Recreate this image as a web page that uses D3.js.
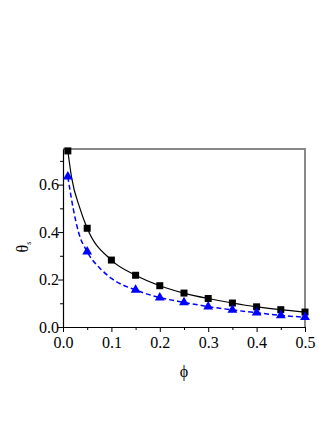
<!DOCTYPE html>
<html>
<head>
<meta charset="utf-8">
<script src="https://cdn.jsdelivr.net/npm/d3@7"></script>
<style>
  body { margin: 0; background: #fff; }
</style>
</head>
<body>
<div id="chart"></div>
<script>
// measured points
const phiSq = [0.01, 0.05, 0.1, 0.15, 0.2, 0.25, 0.3, 0.35, 0.4, 0.45, 0.5];
const thetaSq = [0.742, 0.416, 0.282, 0.218, 0.174, 0.143, 0.120, 0.101, 0.085, 0.073, 0.063];
const phiTri = [0.01, 0.05, 0.15, 0.2, 0.25, 0.3, 0.35, 0.4, 0.45, 0.5];
const thetaTri = [0.633, 0.317, 0.156, 0.124, 0.104, 0.086, 0.072, 0.060, 0.049, 0.041];

// fitted curves
const phiFitSq = [0.01, 0.018, 0.035, 0.05, 0.1, 0.15, 0.2, 0.25, 0.3, 0.35, 0.4, 0.45, 0.5];
const thetaFitSq = [0.742, 0.627, 0.50, 0.416, 0.282, 0.218, 0.174, 0.143, 0.120, 0.101, 0.085, 0.073, 0.063];
const phiFitTri = [0.01, 0.021, 0.032, 0.05, 0.08, 0.1, 0.15, 0.2, 0.25, 0.3, 0.35, 0.4, 0.45, 0.5];
const thetaFitTri = [0.633, 0.50, 0.40, 0.317, 0.24, 0.205, 0.156, 0.124, 0.104, 0.086, 0.072, 0.060, 0.049, 0.041];

const xTicks = [0, 0.1, 0.2, 0.3, 0.4, 0.5];
const yTicks = [0, 0.2, 0.4, 0.6];

const serif = "'Liberation Serif', 'Times New Roman', serif";

var margin = {top: 149, right: 27, bottom: 103, left: 63},
    width = 332 - margin.left - margin.right,
    height = 430 - margin.top - margin.bottom;

var svg = d3.select("#chart")
    .append("svg")
        .attr("width", 332)
        .attr("height", 430)
        .style("font-family", serif)
    .append("g")
        .attr("transform", `translate(${margin.left}, ${margin.top})`);

var xScale = d3.scaleLinear().domain([0, 0.5]).range([0, width]);
var yScale = d3.scaleLinear().domain([0, 0.75]).range([height, 0]);

// frame top/right
svg.append("path")
    .attr("d", `M0,0H${width}V${height}`)
    .attr("fill", "none")
    .attr("stroke", "#888")
    .attr("stroke-width", 2);

// minor ticks
svg.append("g")
    .attr("transform", `translate(0, ${height})`)
    .call(d3.axisBottom(xScale).tickValues(d3.range(0.05, 0.5, 0.1)).tickSize(3).tickFormat(""))
    .call(g => g.select(".domain").remove());
svg.append("g")
    .call(d3.axisLeft(yScale).tickValues([0.1, 0.3, 0.5, 0.7]).tickSize(3).tickFormat(""))
    .call(g => g.select(".domain").remove());

var xAxis = svg.append("g")
    .attr("transform", `translate(0, ${height})`)
    .call(d3.axisBottom(xScale).tickValues(xTicks).tickSize(5).tickSizeOuter(0).tickFormat(d3.format(".1f")));
var yAxis = svg.append("g")
    .call(d3.axisLeft(yScale).tickValues(yTicks).tickSize(5).tickSizeOuter(0).tickFormat(d3.format(".1f")));

[xAxis, yAxis].forEach(g => {
    g.attr("font-family", null).attr("font-size", 16);
    g.selectAll("text").attr("fill", "#000").style("font-family", serif);
    g.select(".domain").attr("stroke-width", 1.2);
});
xAxis.selectAll("text").attr("dy", "0.8em");
yAxis.selectAll("text").attr("x", -4);

// curves
var line = d3.line()
    .x(d => xScale(d[0]))
    .y(d => yScale(d[1]))
    .curve(d3.curveMonotoneX);

svg.append("path")
    .datum(d3.zip(phiFitSq, thetaFitSq))
    .attr("fill", "none")
    .attr("stroke", "#000")
    .attr("stroke-width", 1.2)
    .attr("d", line);

svg.append("path")
    .datum(d3.zip(phiFitTri, thetaFitTri))
    .attr("fill", "none")
    .attr("stroke", "#0000ff")
    .attr("stroke-width", 1.5)
    .attr("stroke-dasharray", "5,3")
    .attr("d", line);

// markers
svg.selectAll(".sq")
    .data(d3.zip(phiSq, thetaSq))
    .enter()
    .append("rect")
    .attr("class", "sq")
    .attr("x", d => xScale(d[0]) - 3.5)
    .attr("y", d => yScale(d[1]) - 3.5)
    .attr("width", 7)
    .attr("height", 7)
    .attr("fill", "#000");

svg.selectAll(".tri")
    .data(d3.zip(phiTri, thetaTri))
    .enter()
    .append("path")
    .attr("class", "tri")
    .attr("transform", d => `translate(${xScale(d[0])}, ${yScale(d[1])})`)
    .attr("d", d3.symbol().type(d3.symbolTriangle).size(42))
    .attr("fill", "#0000ff");

// axis titles
svg.append("text")
    .attr("x", width / 2)
    .attr("y", height + 50)
    .attr("text-anchor", "middle")
    .attr("font-size", 16)
    .text("ϕ");

var yt = svg.append("text")
    .attr("transform", `translate(${-35}, 98) rotate(-90)`)
    .attr("text-anchor", "middle")
    .attr("font-size", 16);
yt.append("tspan").text("θ");
yt.append("tspan").attr("font-size", 8).attr("dy", 3).text("s");
</script>
</body>
</html>
